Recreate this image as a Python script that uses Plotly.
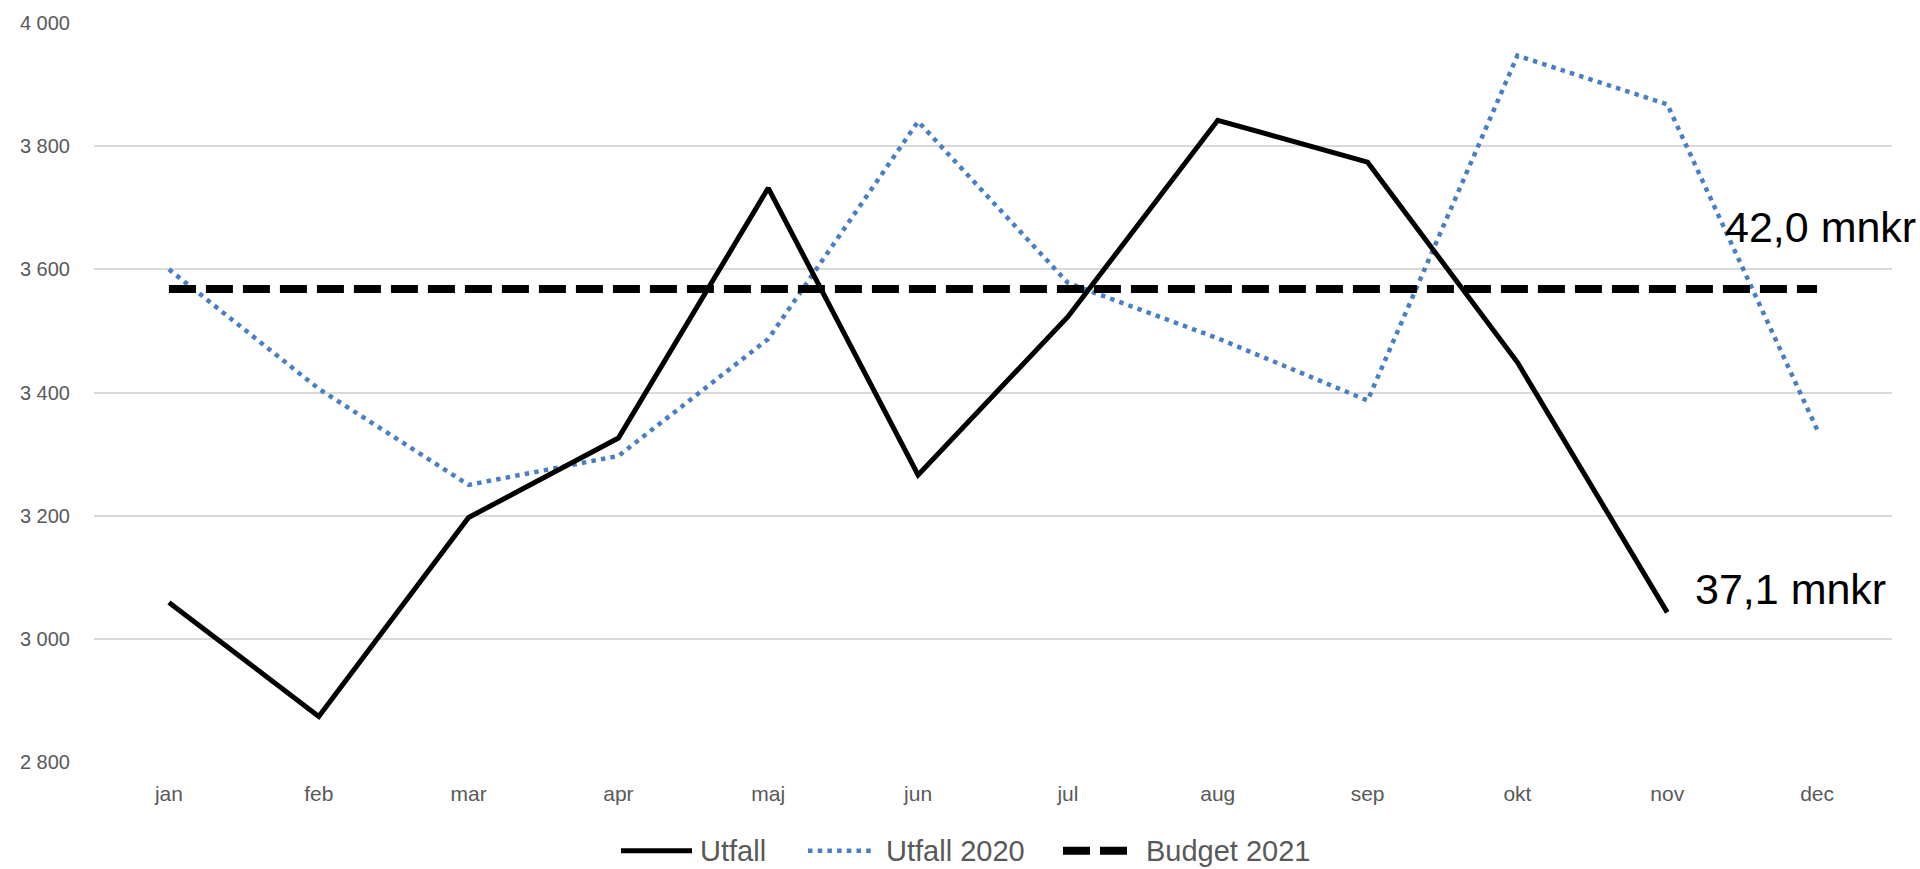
import plotly.graph_objects as go

months = ["jan", "feb", "mar", "apr", "maj", "jun", "jul", "aug", "sep", "okt", "nov", "dec"]
utfall = [3059, 2874, 3197, 3326, 3732, 3266, 3523, 3842, 3774, 3449, 3043]
utfall_2020 = [3600, 3406, 3250, 3297, 3487, 3840, 3578, 3488, 3387, 3947, 3868, 3340]
budget_2021 = [3568] * 12
y_ticks = [2800, 3000, 3200, 3400, 3600, 3800, 4000]
y_ticktext = ["2 800", "3 000", "3 200", "3 400", "3 600", "3 800", "4 000"]
series_names = ["Utfall", "Utfall 2020", "Budget 2021"]
label_utfall = "37,1 mnkr"
label_2020 = "42,0 mnkr"

BLUE = "#4A7EC2"
FONT = "Liberation Sans"
GREY = "#595959"

W, H = 1920, 869
ML, MR, MT, MB = 94, 28, 20, 107
PW = W - ML - MR
PH = H - MT - MB

def px2paper_x(px):
    return (px - ML) / PW

def py2paper_y(py):
    return (H - MB - py) / PH

fig = go.Figure()
fig.add_trace(go.Scatter(x=list(range(len(utfall_2020))), y=utfall_2020, mode="lines",
                         name=series_names[1], showlegend=False,
                         line=dict(color=BLUE, width=4.5, dash="4.5px,5.2px")))
fig.add_trace(go.Scatter(x=list(range(len(budget_2021))), y=budget_2021, mode="lines",
                         name=series_names[2], showlegend=False,
                         line=dict(color="black", width=8, dash="27px,10px")))
fig.add_trace(go.Scatter(x=list(range(len(utfall))), y=utfall, mode="lines",
                         name=series_names[0], showlegend=False,
                         line=dict(color="black", width=5)))

# end labels
fig.add_annotation(x=10.37, y=3668, xref="x", yref="y", text=label_2020, showarrow=False,
                   xanchor="left", yanchor="middle", font=dict(family=FONT, size=43, color="black"))
fig.add_annotation(x=10.17, y=3081, xref="x", yref="y", text=label_utfall, showarrow=False,
                   xanchor="left", yanchor="middle", font=dict(family=FONT, size=43, color="black"))

# manual legend
ly = py2paper_y(851)
legend_items = [
    (621, 692, 698, series_names[0], dict(color="black", width=5)),
    (808, 874, 884, series_names[1], dict(color=BLUE, width=4.5, dash="4.5px,5.2px")),
    (1063, 1129, 1144, series_names[2], dict(color="black", width=8, dash="27px,10px")),
]
for x0, x1, xt, name, ln in legend_items:
    fig.add_shape(type="line", xref="paper", yref="paper",
                  x0=px2paper_x(x0), x1=px2paper_x(x1), y0=ly, y1=ly, line=ln)
    fig.add_annotation(xref="paper", yref="paper", x=px2paper_x(xt), y=ly, text=name,
                       showarrow=False, xanchor="left", yanchor="middle",
                       font=dict(family=FONT, size=29, color=GREY))

fig.update_layout(
    width=W, height=H,
    margin=dict(l=ML, r=MR, t=MT, b=MB),
    paper_bgcolor="white", plot_bgcolor="white",
    showlegend=False,
    font=dict(family=FONT, color=GREY),
)
fig.update_xaxes(
    range=[-0.5, 11.5], tickmode="array", tickvals=list(range(12)), ticktext=months,
    showgrid=False, zeroline=False, showline=False, ticks="",
    tickfont=dict(family=FONT, size=21, color=GREY), ticklabelstandoff=17,
)
fig.update_yaxes(
    range=[2800, 4000], tickmode="array", tickvals=y_ticks, ticktext=y_ticktext,
    showgrid=True, gridcolor="#D9D9D9", gridwidth=2, zeroline=False, showline=False, ticks="",
    tickfont=dict(family=FONT, size=20, color=GREY), ticklabelstandoff=23,
)

fig.write_html("out.html", config={"displayModeBar": False},
               post_script="document.body.style.margin='0px';document.body.style.overflow='hidden';")
